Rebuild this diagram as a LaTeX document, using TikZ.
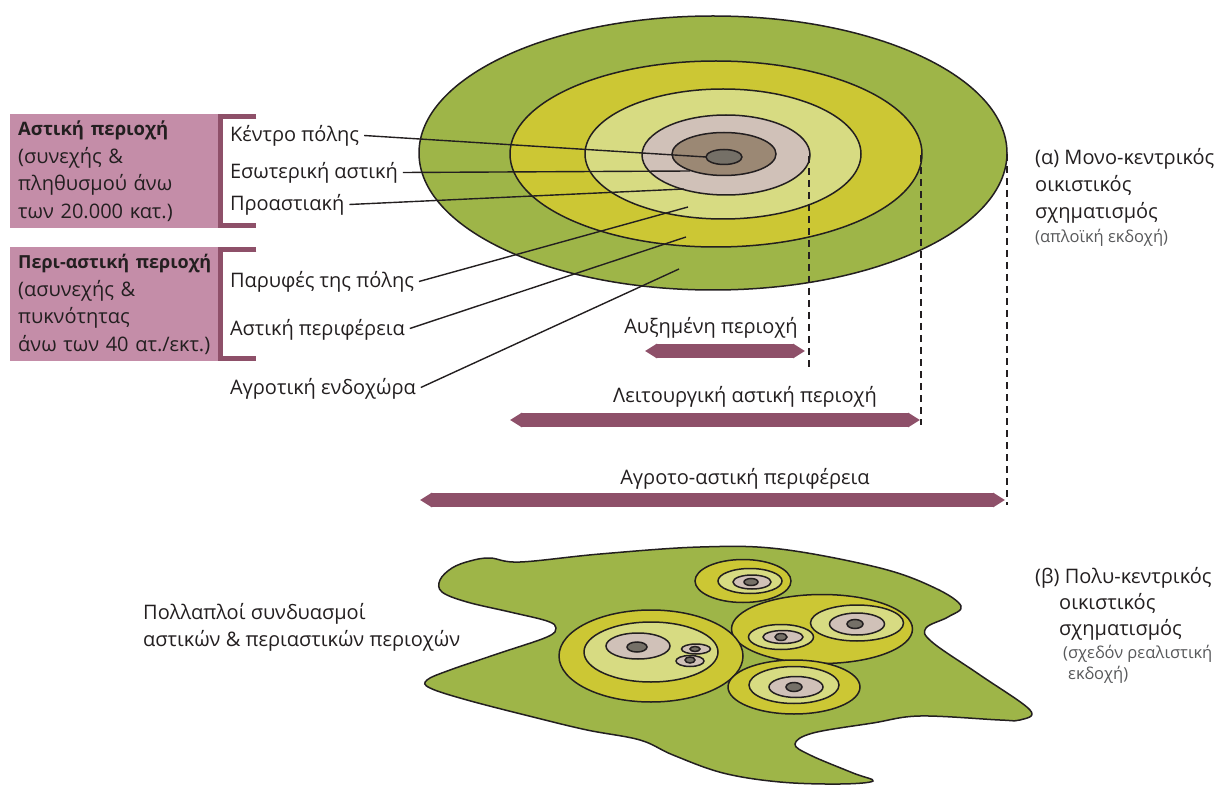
\documentclass[tikz,border=0pt]{standalone}
\usepackage{fontspec}
\setmainfont{Open Sans}
\usetikzlibrary{arrows.meta}
\definecolor{fieldgreen}{RGB}{158,181,72}
\definecolor{mustard}{RGB}{204,199,52}
\definecolor{palegreen}{RGB}{215,219,130}
\definecolor{beige}{RGB}{208,193,184}
\definecolor{umber}{RGB}{155,136,116}
\definecolor{slate}{RGB}{117,112,103}
\definecolor{rose}{RGB}{196,141,168}
\definecolor{plum}{RGB}{142,80,105}
\definecolor{ink}{RGB}{35,31,32}
\definecolor{subgray}{RGB}{88,89,91}

\begin{document}
\begin{tikzpicture}[x=1pt,y=-1pt,
  ring/.style={draw=ink,line width=1.5pt},
  lbl/.style={anchor=base west,inner sep=0pt,outer xsep=5pt,text height=13pt,text depth=0pt,font=\fontsize{20}{27}\selectfont,text=ink},
  lead/.style={draw=ink,line width=1.4pt},
  areabox/.style={anchor=north west,fill=rose,minimum width=210pt,minimum height=114pt,text width=194pt,inner xsep=8pt,align=left,font=\fontsize{20}{27.5}\selectfont,text=ink},
  bracket/.style={draw=plum,line width=5pt},
  band/.style={draw=plum,line width=14pt,{Triangle[length=12pt,width=14pt]}-{Triangle[length=12pt,width=14pt]}},
  guide/.style={draw=ink,line width=1.4pt,dash pattern=on 7pt off 5pt},
  note/.style={anchor=base west,inner sep=0pt,align=left,font=\fontsize{20}{27}\selectfont,text=ink},
  small/.style={font=\fontsize{20}{27}\selectfont,text=ink,anchor=base,inner sep=0pt}]

\useasboundingbox (0,0) rectangle (1221,786);

\draw[ring,fill=fieldgreen] (713,153) ellipse [x radius=294pt,y radius=137pt];
\draw[ring,fill=mustard] (716,154) ellipse [x radius=206pt,y radius=93pt];
\draw[ring,fill=palegreen] (723,154) ellipse [x radius=138pt,y radius=65pt];
\draw[ring,fill=beige] (726,155) ellipse [x radius=84pt,y radius=40pt];
\draw[ring,fill=umber] (724,154) ellipse [x radius=52pt,y radius=21.5pt];
\draw[ring,fill=slate] (724,157) ellipse [x radius=18pt,y radius=7.5pt];

\node[areabox] (astiki) at (10,114) {\mbox{\fontsize{18.5}{27.5}\selectfont\bfseries Αστική περιοχή}\\(συνεχής \&\\πληθυσμού άνω\\των 20.000 κατ.)};
\node[areabox] (periastiki) at (10,247) {\mbox{\fontsize{18}{27.5}\selectfont\bfseries Περι-αστική περιοχή}\\(ασυνεχής \&\\πυκνότητας\\άνω των 40 ατ./εκτ.)};
\draw[bracket] ([xshift=36pt,yshift=-2.5pt]astiki.north east) -| ([yshift=2.5pt]astiki.south east) -- ++(36pt,0);
\draw[bracket] ([xshift=36pt,yshift=-2.5pt]periastiki.north east) -| ([yshift=2.5pt]periastiki.south east) -- ++(36pt,0);

\node[lbl] (kentro) at (225,142) {Κέντρο πόλης};
\node[lbl] (esoteriki) at (225,179) {Εσωτερική αστική};
\node[lbl] (proastiaki) at (225,211) {Προαστιακή};
\node[lbl] (paryfes) at (225,288) {Παρυφές της πόλης};
\node[lbl] (perifereia) at (225,335) {Αστική περιφέρεια};
\node[lbl] (endoxora) at (225,394) {Αγροτική ενδοχώρα};

\coordinate (kentro-end) at (706,157);
\coordinate (esoteriki-end) at (690,171);
\coordinate (proastiaki-end) at (684,189);
\coordinate (paryfes-end) at (688,207);
\coordinate (perifereia-end) at (686,237);
\coordinate (endoxora-end) at (679,269);
\draw[lead] (kentro.east) -- (kentro-end);
\draw[lead] (esoteriki.east) -- (esoteriki-end);
\draw[lead] (proastiaki.east) -- (proastiaki-end);
\draw[lead] (paryfes.east) -- (paryfes-end);
\draw[lead] (perifereia.east) -- (perifereia-end);
\draw[lead] (endoxora.east) -- (endoxora-end);

\coordinate (auxim-top) at (809,156);
\coordinate (auxim-bot) at (809,369);
\coordinate (leit-top) at (921,155);
\coordinate (leit-bot) at (921,425);
\coordinate (agro-top) at (1007,154);
\coordinate (agro-bot) at (1007,505);
\draw[guide] (auxim-top) -- (auxim-bot);
\draw[guide] (leit-top) -- (leit-bot);
\draw[guide] (agro-top) -- (agro-bot);

\node[small] (auxim) at (711,334) {Αυξημένη περιοχή};
\node[small] (leit) at (745,402) {Λειτουργική αστική περιοχή};
\node[small] (agro) at (745,484) {Αγροτο-αστική περιφέρεια};
\coordinate (auxim-w) at (645,351);
\coordinate (auxim-e) at (805,351);
\coordinate (leit-w) at (510,420);
\coordinate (leit-e) at (920,420);
\coordinate (agro-w) at (420,500);
\coordinate (agro-e) at (1005,500);
\draw[band] (auxim-w) -- (auxim-e);
\draw[band] (leit-w) -- (leit-e);
\draw[band] (agro-w) -- (agro-e);

\node[note] (mono) at (1035,243) {(α) Μονο-κεντρικός\\οικιστικός\\σχηματισμός\\[-3pt]{\fontsize{16.5}{18}\selectfont\color{subgray}(απλοϊκή εκδοχή)}};

\draw[ring,fill=fieldgreen] plot[smooth cycle,tension=0.6] coordinates {(490,558) (520,562) (600,554) (700,547) (780,549) (880,568) (935,588) (961,606) (948,617) (926,628) (932,642) (980,675) (1030,710) (1020,720) (1000,720) (920,716) (873,723) (813,733) (795,744) (810,755) (853,773) (873,781) (840,784) (780,782) (723,773) (673,755) (640,740) (587,730) (533,717) (467,700) (430,688) (427,680) (450,670) (500,653) (547,637) (556,628) (547,621) (510,612) (467,602) (442,592) (440,580) (452,568) (470,561)};

\draw[ring,fill=mustard] (822,629) ellipse [x radius=90.5pt,y radius=34.5pt];
\draw[ring,fill=palegreen] (781,637) ellipse [x radius=32.5pt,y radius=12.5pt];
\draw[ring,fill=beige] (783,637) ellipse [x radius=20pt,y radius=6.5pt];
\draw[ring,fill=slate] (781,637) ellipse [x radius=6pt,y radius=3.5pt];
\draw[ring,fill=palegreen] (857,623) ellipse [x radius=46.5pt,y radius=18pt];
\draw[ring,fill=beige] (857,624) ellipse [x radius=27.5pt,y radius=11pt];
\draw[ring,fill=slate] (855,624) ellipse [x radius=8pt,y radius=4.5pt];

\draw[ring,fill=mustard] (651,656) ellipse [x radius=92pt,y radius=46pt];
\draw[ring,fill=palegreen] (651,652) ellipse [x radius=67pt,y radius=30pt];
\draw[ring,fill=beige] (638,646) ellipse [x radius=32pt,y radius=13pt];
\draw[ring,fill=slate] (637,647) ellipse [x radius=10pt,y radius=5pt];
\draw[ring,fill=beige] (696,649) ellipse [x radius=14.5pt,y radius=5pt];
\draw[ring,fill=slate] (695,649) ellipse [x radius=5pt,y radius=2.5pt];
\draw[ring,fill=beige] (690,661) ellipse [x radius=14pt,y radius=5.5pt];
\draw[ring,fill=slate] (690,660) ellipse [x radius=5pt,y radius=3pt];

\draw[ring,fill=mustard] (794,687) ellipse [x radius=66pt,y radius=27pt];
\draw[ring,fill=palegreen] (794,685) ellipse [x radius=45pt,y radius=18.5pt];
\draw[ring,fill=beige] (796,687) ellipse [x radius=27pt,y radius=10.5pt];
\draw[ring,fill=slate] (794,687) ellipse [x radius=8pt,y radius=4.5pt];

\draw[ring,fill=mustard] (743,581) ellipse [x radius=48pt,y radius=21.5pt];
\draw[ring,fill=palegreen] (750,581) ellipse [x radius=32pt,y radius=12.5pt];
\draw[ring,fill=beige] (752,582) ellipse [x radius=19pt,y radius=7pt];
\draw[ring,fill=slate] (751,582) ellipse [x radius=7pt,y radius=3.5pt];

\node[note] (syndyasmoi) at (143,646) {Πολλαπλοί συνδυασμοί\\αστικών \& περιαστικών περιοχών};
\node[note,font=\fontsize{20}{26}\selectfont] (poly) at (1035,679) {(β) Πολυ-κεντρικός\\\hspace*{24pt}οικιστικός\\\hspace*{24pt}σχηματισμός\\[-3pt]{\fontsize{16.5}{18}\selectfont\color{subgray}\hspace*{28pt}(σχεδόν ρεαλιστική}\\[-5pt]{\fontsize{16.5}{18}\selectfont\color{subgray}\hspace*{33pt}εκδοχή)}};
\end{tikzpicture}
\end{document}
